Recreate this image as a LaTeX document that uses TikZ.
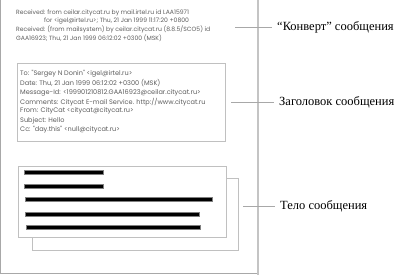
\documentclass[tikz,border=0pt]{standalone}
\usepackage{fontspec}
\setmainfont{Liberation Serif}
\newfontfamily\mailfont{Poppins}
\usetikzlibrary{positioning}
\definecolor{pageedge}{HTML}{A8A8A8}
\definecolor{pageshade}{HTML}{C4C4C4}
\definecolor{boxline}{HTML}{C0C0C0}
\definecolor{mailtext}{HTML}{5E5E5E}
\tikzset{
  envline/.style={
    anchor=west, inner sep=0pt,
    font=\mailfont\fontsize{6.1}{7}\selectfont, text=mailtext,
  },
  hdrline/.style={
    anchor=west, inner sep=0pt,
    font=\mailfont\fontsize{6.55}{8}\selectfont, text=mailtext,
  },
  part/.style={draw=boxline, line width=0.9pt, fill=white},
  bar/.style={fill=black, draw=gray, line width=0.6pt},
  callout/.style={draw=pageedge, line width=0.9pt},
  partname/.style={
    anchor=west, inner xsep=5pt, inner ysep=0pt,
    font=\fontsize{12.5}{14}\selectfont,
  },
}

\begin{document}
\begin{tikzpicture}[x=1pt, y=-1pt]
  \useasboundingbox (0,0) rectangle (400,275);

  % the sheet
  \draw[pageedge, line width=1.2pt] (0.6,-2) -- (0.6,273.6) -- (257,273.6);
  \draw[pageshade, line width=2pt] (257.6,-2) -- (257.6,274.6);

  % envelope
  \node[envline] (env1) at (16,12.5) {Received: from ceilar.citycat.ru by mail.irtel.ru id LAA15971};
  \node[envline] (env2) at (44,21.0) {for <igel@irtel.ru>; Thu, 21 Jan 1999 11:17:20 +0800};
  \node[envline] (env3) at (16,29.5) {Received: (from mailsystem) by ceilar.citycat.ru (8.8.5/SCO5) id};
  \node[envline] (env4) at (16,38.0) {GAA16923; Thu, 21 Jan 1999 06:12:02 +0300 (MSK)};

  % header
  \draw[part] (17,63) rectangle (225,141);
  \node[hdrline] (hdr1) at (20,74.0) {To: "Sergey N Donin" <igel@irtel.ru>};
  \node[hdrline] (hdr2) at (20,83.3) {Date: Thu, 21 Jan 1999 06:12:02 +0300 (MSK)};
  \node[hdrline] (hdr3) at (20,92.6) {Message-Id: <199901210812.GAA16923@ceilar.citycat.ru>};
  \node[hdrline] (hdr4) at (20,101.9) {Comments: Citycat E-mail Service. http://www.citycat.ru};
  \node[hdrline] (hdr5) at (20,111.2) {From: CityCat <citycat@citycat.ru>};
  \node[hdrline] (hdr6) at (20,120.5) {Subject: Hello};
  \node[hdrline] (hdr7) at (20,129.8) {Cc: "day.this" <null@citycat.ru>};

  % body
  \draw[part] (32,178) rectangle (238,250);
  \draw[part] (18,166) rectangle (226,237);
  \draw[bar] (24,170) rectangle (103,174.5);
  \draw[bar] (24,184) rectangle (103,188.5);
  \draw[bar] (25,197) rectangle (212,201.5);
  \draw[bar] (25,212) rectangle (199,216.5);
  \draw[bar] (26,225) rectangle (200,229.5);

  % callouts
  \coordinate (envtip) at (235,27);
  \coordinate (hdrtip) at (231,102.7);
  \coordinate (bodytip) at (243,206.7);
  \node[partname] (envname) at (272,27) {“Конверт” сообщения};
  \node[partname] (hdrname) at (274,102.7) {Заголовок сообщения};
  \node[partname] (bodyname) at (275,206.7) {Тело сообщения};
  \draw[callout] (envtip) -- (envname.west);
  \draw[callout] (hdrtip) -- (hdrname.west);
  \draw[callout] (bodytip) -- (bodyname.west);

\end{tikzpicture}
\end{document}
